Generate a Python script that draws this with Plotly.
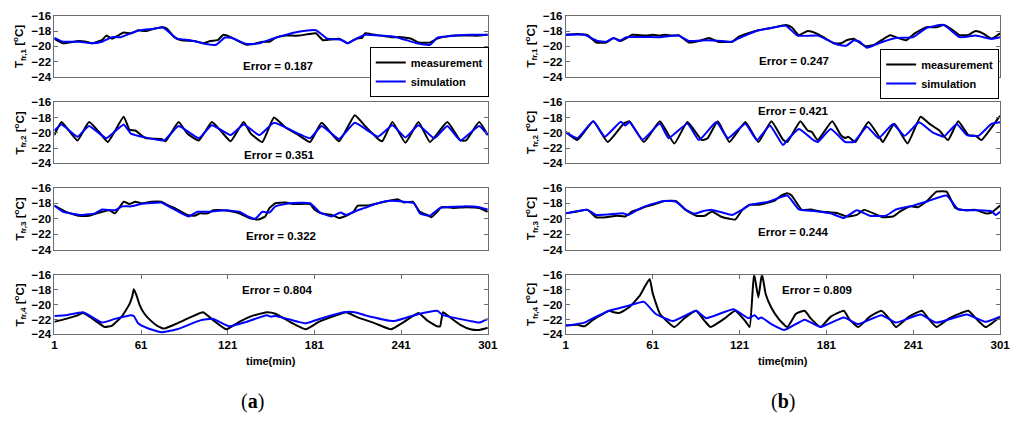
import plotly.graph_objects as go

FONT = "Liberation Sans"

# ---------------- data (time [min], temperature [°C]) ----------------
a1_measurement = [(1,-19.0),(7,-19.6),(11,-19.5),(18,-19.3),(23,-19.4),(27,-19.6),(34,-19.2),(37,-18.6),(41,-19.0),(45,-18.6),
    (49,-18.2),(54,-18.3),(59,-17.9),(64,-18.0),(70,-17.7),(76,-17.5),(79,-17.7),(84,-18.8),(89,-19.2),(98,-19.3),
    (104,-19.6),(109,-19.3),(114,-19.2),(118,-18.5),(123,-18.8),(127,-19.2),(134,-19.8),(139,-19.7),(145,-19.4),(150,-19.4),
    (154,-18.9),(161,-18.6),(166,-18.6),(170,-18.6),(177,-18.4),(182,-18.3),(187,-19.2),(193,-19.1),(198,-19.0),(204,-19.6),
    (210,-19.0),(214,-18.9),(216,-18.3),(223,-18.5),(234,-18.8),(241,-18.8),(248,-19.0),(253,-19.5),(261,-19.5),(266,-19.0),
    (273,-18.7),(279,-18.6),(289,-18.6),(295,-18.6),(301,-18.5)]
a1_simulation = [(1,-18.9),(7,-19.4),(18,-19.4),(27,-19.6),(34,-19.4),(41,-18.8),(47,-18.8),(54,-18.3),(60,-17.9),(70,-17.7),
    (76,-17.5),(86,-19.0),(95,-19.2),(106,-19.7),(113,-19.8),(119,-18.85),(124,-18.9),(134,-19.7),(143,-19.6),(152,-19.0),
    (161,-18.5),(170,-18.1),(182,-17.9),(190,-19.0),(199,-19.1),(204,-19.6),(208,-19.2),(216,-18.5),(227,-18.6),(238,-18.8),
    (252,-19.6),(261,-19.8),(266,-18.9),(279,-18.6),(290,-18.5),(301,-18.5)]

a2_measurement = [(1,-20.3),(3,-19.5),(6,-18.6),(11,-19.7),(17,-21.0),(25,-18.6),(32,-19.9),(38,-21.2),(49,-17.9),(53,-19.6),
    (57,-19.7),(64,-20.7),(75,-20.8),(78,-21.1),(87,-18.6),(93,-20.1),(101,-21.0),(110,-18.6),(116,-19.7),(123,-21.1),
    (132,-18.6),(137,-20.1),(145,-21.2),(153,-18.0),(161,-19.3),(170,-20.3),(178,-21.2),(186,-18.7),(198,-21.1),(209,-17.7),
    (216,-19.1),(225,-20.8),(228,-21.1),(235,-18.6),(244,-21.3),(253,-18.6),(261,-21.2),(273,-18.6),(282,-21.0),(286,-21.0),
    (295,-18.6),(301,-20.3)]
a2_simulation = [(1,-19.7),(6,-18.9),(17,-20.5),(25,-19.1),(37,-20.7),(49,-18.9),(54,-20.1),(64,-20.6),(77,-21.0),(87,-19.1),
    (101,-20.7),(110,-19.0),(123,-20.3),(132,-18.9),(143,-20.3),(153,-18.7),(178,-20.7),(186,-19.1),(198,-20.8),(209,-18.7),
    (225,-20.5),(235,-19.0),(244,-20.6),(253,-19.0),(264,-20.7),(273,-19.1),(282,-21.0),(295,-19.1),(301,-20.3)]

a3_measurement = [(1,-18.3),(9,-19.1),(18,-19.6),(25,-19.6),(34,-19.1),(39,-18.9),(43,-19.3),(49,-17.8),(53,-18.1),(57,-17.8),
    (61,-18.0),(68,-17.8),(75,-17.8),(79,-18.2),(84,-18.6),(89,-19.1),(93,-19.5),(98,-19.6),(102,-19.3),(107,-19.3),
    (111,-18.9),(118,-18.9),(125,-19.1),(129,-19.3),(136,-19.9),(142,-20.1),(147,-19.7),(150,-18.6),(154,-18.0),(161,-17.9),
    (166,-18.1),(178,-18.1),(181,-18.8),(186,-19.3),(193,-19.5),(198,-19.9),(203,-19.6),(208,-19.1),(211,-18.3),(218,-18.3),
    (225,-18.0),(232,-17.7),(239,-17.5),(243,-17.9),(249,-17.8),(254,-19.1),(259,-19.5),(262,-19.8),(266,-19.1),(269,-18.5),
    (277,-18.6),(286,-18.5),(295,-18.6),(301,-19.1)]
a3_simulation = [(1,-18.3),(7,-19.1),(20,-19.5),(29,-19.3),(34,-18.8),(43,-18.9),(48,-18.4),(54,-18.4),(61,-18.1),(75,-17.9),
    (82,-18.6),(89,-19.3),(94,-19.7),(100,-19.1),(107,-19.1),(120,-18.9),(129,-19.1),(135,-19.7),(140,-20.0),(145,-19.1),
    (150,-19.2),(154,-18.4),(164,-18.0),(178,-18.0),(185,-19.2),(193,-19.7),(199,-19.2),(203,-19.5),(211,-18.9),(216,-18.6),
    (223,-18.1),(232,-17.7),(243,-17.8),(250,-18.0),(254,-19.3),(261,-19.6),(268,-18.6),(284,-18.4),(295,-18.5),(301,-18.8)]

a4_measurement = [(1,-22.3),(9,-21.9),(16,-21.5),(21,-21.1),(29,-22.1),(36,-23.0),(41,-22.8),(48,-21.5),(53,-19.9),(55,-18.8),
    (56,-17.9),(58,-18.8),(60,-20.0),(63,-21.1),(67,-22.0),(72,-22.8),(77,-23.2),(86,-22.5),(95,-21.7),(104,-21.0),
    (111,-22.1),(120,-23.3),(129,-22.3),(138,-21.5),(148,-21.0),(154,-21.2),(164,-22.3),(175,-23.3),(184,-22.3),(195,-21.5),
    (203,-21.0),(211,-21.7),(223,-22.5),(234,-23.3),(243,-22.3),(253,-21.1),(259,-22.1),(266,-22.9),(268,-22.9),(270,-21.0),
    (275,-21.7),(282,-22.7),(289,-23.3),(295,-23.4),(301,-23.1)]
a4_simulation = [(1,-21.5),(9,-21.4),(21,-21.0),(34,-22.4),(43,-21.9),(54,-21.4),(56,-21.5),(59,-22.5),(66,-23.2),(75,-23.7),
    (86,-23.3),(102,-22.1),(111,-21.9),(122,-22.9),(134,-22.3),(148,-21.4),(151,-21.6),(154,-21.5),(170,-22.3),(175,-22.5),
    (188,-21.7),(201,-21.0),(209,-21.0),(216,-21.4),(236,-22.2),(252,-21.3),(266,-20.8),(270,-21.4),(289,-22.2),(295,-22.4),
    (301,-21.9)]

b1_measurement = [(1,-18.5),(9,-18.4),(16,-18.55),(22,-19.5),(29,-19.5),(34,-18.9),(39,-19.3),(47,-18.5),(52,-18.55),(57,-18.6),
    (61,-18.5),(66,-18.6),(69,-18.5),(75,-18.6),(79,-18.55),(86,-19.5),(93,-19.3),(100,-18.9),(106,-19.4),(116,-19.4),
    (120,-18.8),(127,-18.3),(134,-17.9),(143,-17.6),(153,-17.2),(157,-17.5),(162,-18.55),(168,-18.0),(174,-18.3),(179,-18.8),
    (186,-19.6),(191,-19.6),(195,-19.2),(200,-19.0),(203,-19.4),(208,-20.0),(214,-19.8),(219,-19.2),(225,-18.55),(229,-18.8),
    (236,-19.2),(242,-18.3),(250,-17.5),(257,-17.5),(262,-17.2),(267,-17.7),(273,-18.55),(279,-18.5),(284,-18.0),(289,-18.3),
    (295,-19.0),(301,-18.3)]
b1_simulation = [(1,-18.5),(14,-18.5),(23,-19.3),(29,-19.4),(34,-18.9),(38,-19.3),(43,-18.8),(66,-18.8),(79,-18.6),(86,-19.3),
    (98,-19.2),(109,-19.3),(116,-19.4),(120,-19.0),(134,-17.9),(143,-17.6),(153,-17.3),(161,-18.6),(175,-18.6),(182,-19.2),
    (189,-19.8),(195,-19.9),(200,-19.2),(204,-19.4),(209,-20.2),(216,-19.7),(220,-19.4),(229,-18.9),(241,-18.8),(250,-17.6),
    (262,-17.2),(273,-18.8),(284,-18.6),(295,-19.0),(301,-18.8)]

b2_measurement = [(1,-19.9),(9,-20.95),(20,-18.5),(30,-21.2),(41,-18.8),(45,-18.5),(55,-21.2),(66,-18.5),(76,-21.4),(85,-18.6),
    (95,-20.95),(99,-20.7),(106,-18.5),(114,-21.2),(125,-18.6),(134,-21.2),(143,-18.5),(151,-20.9),(154,-21.2),(163,-18.5),
    (168,-19.7),(171,-19.9),(175,-20.95),(185,-18.5),(191,-20.3),(194,-20.7),(196,-20.5),(199,-20.95),(201,-21.2),(210,-18.6),
    (218,-20.7),(220,-21.2),(228,-18.8),(237,-21.4),(246,-17.9),(252,-18.8),(259,-19.7),(265,-20.95),(272,-18.5),(279,-20.3),
    (284,-20.4),(288,-20.95),(300,-18.0),(301,-17.8)]
b2_simulation = [(1,-19.9),(9,-20.7),(20,-18.5),(28,-20.5),(39,-18.55),(42,-19.05),(45,-18.6),(54,-20.9),(66,-18.8),(72,-20.7),
    (85,-18.8),(93,-20.95),(105,-18.6),(113,-20.7),(125,-18.8),(133,-20.95),(142,-19.05),(151,-21.6),(154,-20.95),(162,-19.5),
    (172,-20.95),(175,-21.2),(184,-19.5),(194,-21.2),(200,-21.2),(209,-19.2),(217,-20.7),(227,-18.84),(235,-20.4),(245,-18.63),
    (254,-19.9),(262,-20.5),(271,-18.84),(278,-20.3),(286,-20.4),(295,-18.84),(301,-18.63)]

b3_measurement = [(1,-19.3),(9,-19.05),(16,-18.85),(22,-19.8),(29,-19.8),(36,-19.6),(42,-19.7),(47,-19.05),(51,-18.8),(57,-18.4),
    (61,-18.2),(69,-17.7),(77,-17.7),(84,-18.9),(91,-19.6),(97,-19.6),(102,-19.05),(108,-19.7),(114,-20.0),(118,-20.1),
    (123,-18.85),(128,-18.2),(134,-18.2),(139,-18.0),(145,-17.7),(149,-17.1),(154,-16.7),(157,-17.0),(164,-18.85),(170,-18.8),
    (177,-19.05),(189,-19.3),(195,-19.7),(202,-19.5),(207,-18.85),(216,-19.5),(220,-19.8),(227,-19.7),(232,-19.05),(239,-18.4),
    (244,-18.5),(251,-17.6),(257,-16.5),(264,-16.5),(270,-18.6),(277,-18.9),(284,-18.85),(291,-19.3),(295,-19.2),(301,-18.3)]
b3_simulation = [(1,-19.3),(16,-18.85),(22,-19.5),(41,-19.3),(44,-19.5),(51,-18.8),(57,-18.3),(69,-17.7),(77,-17.8),(84,-18.85),
    (90,-19.35),(95,-19.05),(102,-18.85),(116,-19.5),(123,-18.8),(128,-18.2),(141,-17.8),(154,-17.0),(162,-18.8),(175,-19.05),
    (184,-19.3),(193,-19.9),(202,-18.9),(211,-19.6),(222,-19.6),(229,-18.8),(241,-18.3),(250,-17.8),(264,-17.0),(272,-18.8),
    (284,-18.9),(295,-19.05),(298,-19.5),(301,-19.1)]

b4_measurement = [(1,-22.8),(9,-22.7),(14,-22.9),(20,-22.0),(31,-20.8),(34,-21.0),(38,-21.1),(45,-20.3),(52,-18.8),(56,-17.4),
    (59,-16.5),(61,-18.4),(66,-21.2),(76,-23.0),(83,-21.8),(91,-20.8),(97,-22.2),(101,-23.0),(111,-21.8),(118,-20.8),
    (125,-22.2),(128,-23.0),(131,-15.8),(134,-19.0),(136.5,-15.8),(139,-18.5),(143,-20.4),(148,-21.9),(154,-23.0),(160,-21.2),
    (166,-20.8),(170,-21.8),(177,-23.0),(184,-21.6),(193,-20.8),(197,-22.0),(203,-23.0),(211,-21.6),(219,-20.8),(225,-22.0),
    (229,-23.0),(238,-21.6),(247,-20.8),(252,-22.0),(257,-23.0),(266,-21.8),(279,-20.8),(285,-22.0),(291,-23.0),(301,-21.6)]
b4_simulation = [(1,-22.8),(14,-22.4),(20,-21.8),(31,-20.8),(43,-20.2),(55,-19.6),(63,-21.2),(75,-22.2),(91,-20.8),(98,-21.8),
    (117,-20.6),(127,-21.8),(131.5,-21.4),(134,-21.9),(136,-21.7),(143,-22.6),(152,-23.4),(166,-22.0),(177,-23.0),(193,-21.7),
    (203,-22.6),(219,-21.4),(229,-22.4),(246,-21.3),(257,-22.4),(278,-21.3),(291,-22.3),(301,-21.6)]

errors_a = [0.187, 0.351, 0.322, 0.804]
errors_b = [0.247, 0.421, 0.244, 0.809]
x_ticks = [1, 61, 121, 181, 241, 301]
y_ticks = [-24, -22, -20, -18, -16]
panel_labels = ["(a)", "(b)"]
series_names = ["measurement", "simulation"]
series_colors = ["#000000", "#0000ff"]

# ---------------- layout geometry (pixels of 1024x425 canvas) ----------------
W, H = 1024, 425
col_px = [(52, 491), (570, 1010)]
row_px = [(10, 73), (99, 162), (187, 251), (277, 338)]
error_pos = [[(279, 62), (280, 153), (282, 237), (278, 292)],
             [(801, 57), (801, 108), (801, 233), (824, 292)]]

panels = [[a1_measurement, a2_measurement, a3_measurement, a4_measurement],
          [b1_measurement, b2_measurement, b3_measurement, b4_measurement]]
panels_sim = [[a1_simulation, a2_simulation, a3_simulation, a4_simulation],
              [b1_simulation, b2_simulation, b3_simulation, b4_simulation]]
errors = [errors_a, errors_b]

fig = go.Figure()
annotations = []
layout = {}
FRAME = "#6e6e6e"
tickfont = dict(family=FONT, size=11.5, color="black", weight="bold")

idx = 0
for c in range(2):
    for r in range(4):
        idx += 1
        xa = "x" if idx == 1 else f"x{idx}"
        ya = "y" if idx == 1 else f"y{idx}"
        for s, data in enumerate([panels[c][r], panels_sim[c][r]]):
            fig.add_trace(go.Scatter(
                x=[p[0] for p in data], y=[p[1] for p in data],
                mode="lines", line=dict(color=series_colors[s], width=2, shape="spline", smoothing=0.4),
                name=series_names[s], xaxis=xa, yaxis=ya,
                showlegend=(r == 0), legend=("legend" if c == 0 else "legend2"),
            ))
        x0, x1 = col_px[c]
        t0, t1 = row_px[r]
        bottom = (r == 3)
        layout["xaxis" if idx == 1 else f"xaxis{idx}"] = dict(
            domain=[x0 / W, x1 / W], anchor=ya, range=[1, 301],
            showline=True, linecolor=FRAME, linewidth=1, mirror=("ticks" if bottom else True),
            ticks=("inside" if bottom else ""), ticklen=4, tickcolor=FRAME,
            tickvals=x_ticks, showticklabels=bottom, tickfont=tickfont,
            showgrid=False, zeroline=False, fixedrange=True,
        )
        layout["yaxis" if idx == 1 else f"yaxis{idx}"] = dict(
            domain=[1 - t1 / H, 1 - t0 / H], anchor=xa, range=[-24, -16],
            showline=True, linecolor=FRAME, linewidth=1, mirror="ticks",
            ticks="inside", ticklen=4, tickcolor=FRAME, tickvals=y_ticks,
            tickfont=tickfont, showgrid=False, zeroline=False, fixedrange=True,
        )
        ex, ey = error_pos[c][r]
        annotations.append(dict(
            text=f"<b>Error = {errors[c][r]:.3f}</b>", x=ex / W, y=1 - ey / H,
            xref="paper", yref="paper", showarrow=False, xanchor="center", yanchor="middle",
            font=dict(family=FONT, size=11.5, color="black"),
        ))
        annotations.append(dict(
            text=f"<b>T<sub>fr,{r + 1}</sub> [<sup>o</sup>C]</b>",
            x=(17 if c == 0 else 535) / W, y=1 - (t0 + t1) / 2 / H,
            xref="paper", yref="paper", showarrow=False, textangle=-90,
            xanchor="center", yanchor="middle",
            font=dict(family=FONT, size=11.5, color="black"),
        ))
    annotations.append(dict(
        text="<b>time(min)</b>", x=(x0 + x1) / 2 / W, y=1 - 365 / H,
        xref="paper", yref="paper", showarrow=False, xanchor="center", yanchor="middle",
        font=dict(family=FONT, size=11, color="black"),
    ))
    label = panel_labels[c]
    annotations.append(dict(
        text=f"({'<b>' + label[1] + '</b>'})", x=(253 if c == 0 else 790) / W, y=1 - 407 / H,
        xref="paper", yref="paper", showarrow=False, xanchor="center", yanchor="middle",
        font=dict(family="Liberation Serif", size=20, color="black"),
    ))

legend_style = dict(
    bgcolor="white", bordercolor="black", borderwidth=1,
    font=dict(family=FONT, size=11, color="black", weight="bold"),
    xanchor="right", yanchor="middle", itemwidth=30, tracegroupgap=0,
)
fig.update_layout(
    width=W, height=H, margin=dict(l=0, r=0, t=0, b=0),
    paper_bgcolor="white", plot_bgcolor="white",
    annotations=annotations,
    legend=dict(x=492 / W, y=1 - 68 / H, **legend_style),
    legend2=dict(x=1009 / W, y=1 - 70 / H, **legend_style),
    **layout,
)
fig.write_html(
    "out.html",
    config={"displayModeBar": False, "staticPlot": True},
    post_script="document.body.style.margin='0';document.body.style.overflow='hidden';",
)
